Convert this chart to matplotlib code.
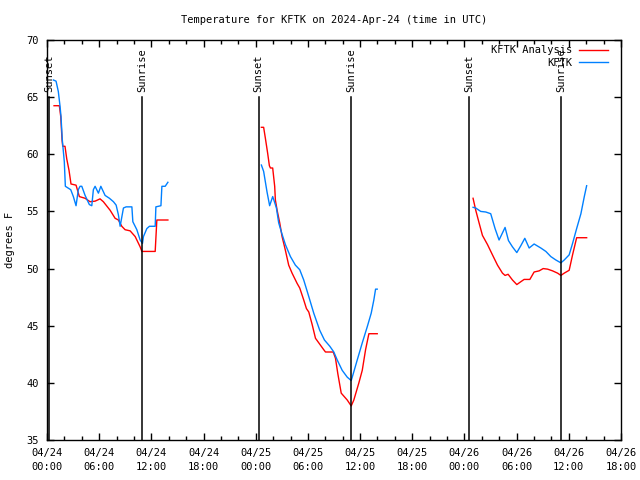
import pandas as pd
import matplotlib
matplotlib.use('Agg')
import matplotlib.pyplot as plt
import matplotlib.dates as mdates

plt.rcParams['font.family'] = 'DejaVu Sans Mono'
plt.rcParams['font.size'] = 7.5

start = pd.Timestamp('2024-04-24 00:00')

# Analysis (red), hours since 04/24 00:00 UTC; None separates nights
ana_hours = [0.81, 1.42, 1.58, 1.73, 1.81, 2.07, 2.27, 2.53, 2.76, 3.34, 3.72, 4.38, 4.95,
             5.53, 6.10, 6.48, 7.26, 7.83, 8.21, 8.60, 8.98, 9.56, 10.14, 10.71, 10.91,
             12.44, 12.63, 13.90,
             None,
             24.65, 24.91, 25.11, 25.37, 25.57, 25.69, 25.95, 26.18, 26.26, 26.46, 26.76,
             27.03, 27.41, 27.79, 28.18, 28.76, 29.06, 29.52, 29.83, 30.10, 30.49, 30.87,
             31.44, 31.82, 32.02, 32.91, 33.17, 33.44, 33.83, 34.52, 34.98, 35.28, 35.86,
             36.25, 36.63, 37.01, 37.97,
             None,
             48.99, 49.30, 49.68, 50.07, 50.65, 51.22, 51.80, 52.37, 52.67, 53.02, 53.52,
             54.02, 54.48, 54.86, 55.52, 56.01, 56.59, 57.05, 57.56, 58.13, 58.71, 59.09,
             59.47, 60.04, 60.43, 60.90, 62.05]
ana_temp = [64.25, 64.25, 63.3, 61.25, 60.7, 60.7, 59.6, 58.6, 57.4, 57.3, 56.3, 56.15, 55.85,
            55.9, 56.1, 55.85, 55.1, 54.4, 54.25, 53.7, 53.4, 53.3, 52.8, 51.9, 51.5,
            51.5, 54.25, 54.25,
            None,
            62.36, 62.36, 61.4, 60.1, 59.0, 58.8, 58.8, 57.2, 56.0, 55.1, 54.0,
            52.8, 51.6, 50.3, 49.6, 48.7, 48.3, 47.25, 46.5, 46.2, 45.1, 43.9,
            43.3, 42.9, 42.7, 42.7, 42.15, 40.8, 39.1, 38.5, 37.98, 38.5, 40.0,
            41.1, 42.9, 44.3, 44.3,
            None,
            56.15, 55.1, 54.0, 52.9, 52.1, 51.2, 50.3, 49.6, 49.4, 49.5, 49.0,
            48.6, 48.85, 49.05, 49.05, 49.7, 49.8, 50.0, 49.95, 49.8, 49.6, 49.4,
            49.6, 49.85, 51.2, 52.7, 52.7]

# Observations (blue)
obs_hours = [0.73, 1.04, 1.30, 1.50, 1.61, 1.76, 1.99, 2.11, 2.73, 3.03, 3.34, 3.60, 3.80,
             4.00, 4.38, 4.87, 5.15, 5.33, 5.53, 5.91, 6.19, 6.68, 7.18, 7.64, 7.95, 8.21,
             8.41, 8.79, 9.10, 9.76, 9.87, 10.33, 10.71, 10.98, 11.09, 11.48, 11.78, 12.44,
             12.52, 13.10, 13.21, 13.59, 13.90,
             None,
             24.65, 24.91, 25.30, 25.60, 25.95, 26.15, 26.38, 26.64, 27.03, 27.41, 27.99,
             28.56, 29.06, 29.52, 30.10, 30.67, 31.36, 31.90, 32.52, 32.98, 33.37, 33.94,
             34.52, 34.98, 35.10, 35.67, 36.25, 36.82, 37.28, 37.58, 37.78, 37.97,
             None,
             48.99, 49.30, 49.87, 50.45, 51.02, 51.52, 51.98, 52.67, 53.06, 53.52, 54.02,
             54.48, 54.94, 55.44, 56.01, 56.78, 57.36, 57.93, 58.51, 59.09, 59.47, 60.04,
             60.43, 60.90, 61.39, 61.78, 62.05]
obs_temp = [66.5, 66.4, 65.5, 64.2, 63.3, 61.25, 59.35, 57.2, 56.9, 56.3, 55.5, 56.9, 57.2,
            57.2, 56.4, 55.6, 55.5, 56.9, 57.2, 56.6, 57.2, 56.4, 56.15, 55.85, 55.55, 54.7,
            53.7, 55.3, 55.4, 55.4, 54.1, 53.4, 52.5, 52.2, 52.8, 53.5, 53.7, 53.7,
            55.4, 55.5, 57.2, 57.2, 57.55,
            None,
            59.06, 58.5, 56.7, 55.5, 56.3, 55.85, 55.3, 54.0, 53.0, 52.1, 51.05,
            50.3, 49.9, 49.0, 47.55, 46.1, 44.6, 43.75, 43.2, 42.7, 42.0, 41.1,
            40.5, 40.2, 40.5, 42.0, 43.5, 44.9, 46.1, 47.25, 48.2, 48.2,
            None,
            55.36, 55.3, 55.0, 54.95, 54.8, 53.5, 52.5, 53.6, 52.45, 51.9, 51.4,
            52.0, 52.65, 51.8, 52.15, 51.8, 51.5, 51.05, 50.75, 50.5, 50.75, 51.2,
            52.2, 53.5, 54.8, 56.3, 57.25]

# Sunset / sunrise markers
sun_hours = [0.23, 10.94, 24.34, 35.01, 48.55, 59.12]
sun_labels = ['Sunset', 'Sunrise', 'Sunset', 'Sunrise', 'Sunset', 'Sunrise']


def segments(hours, vals):
    segs, xs, ys = [], [], []
    for h, v in zip(hours, vals):
        if h is None:
            segs.append((xs, ys))
            xs, ys = [], []
        else:
            xs.append(start + pd.Timedelta(hours=h))
            ys.append(v)
    segs.append((xs, ys))
    return segs


fig = plt.figure(figsize=(6.4, 4.8), dpi=100)
ax = fig.add_axes([47 / 640, 40 / 480, 574 / 640, 400 / 480])

for i, (xs, ys) in enumerate(segments(ana_hours, ana_temp)):
    ax.plot(xs, ys, color='#ff0000', lw=1, label='KFTK Analysis' if i == 0 else None)
for i, (xs, ys) in enumerate(segments(obs_hours, obs_temp)):
    ax.plot(xs, ys, color='#0080ff', lw=1, label='KFTK' if i == 0 else None)

for h, lab in zip(sun_hours, sun_labels):
    t = start + pd.Timedelta(hours=h)
    ax.plot([t, t], [35, 65], color='black', lw=1.1)
    ax.text(t, 65.45, lab, rotation=90, ha='center', va='bottom')

ax.set_xlim(start, start + pd.Timedelta(hours=66))
ax.set_ylim(35, 70)
ax.set_yticks(range(35, 71, 5))

ax.xaxis.set_major_locator(mdates.HourLocator(byhour=[0, 6, 12, 18]))
ax.xaxis.set_minor_locator(mdates.HourLocator(byhour=range(0, 24, 2)))
ax.xaxis.set_major_formatter(mdates.DateFormatter('%m/%d\n%H:%M'))

ax.tick_params(which='both', direction='in', top=True, right=True, color='black')
ax.tick_params(which='major', length=5, width=1, pad=6)
ax.tick_params(which='minor', length=3, width=1)
for sp in ax.spines.values():
    sp.set_linewidth(1)

ax.set_ylabel('degrees F', labelpad=8)
ax.set_title('Temperature for KFTK on 2024-Apr-24 (time in UTC)', fontsize=7.5, pad=12)

ax.legend(loc='upper right', bbox_to_anchor=(1 - 8 / 574, 1), markerfirst=False,
          frameon=False, handlelength=2.8, handletextpad=0.6, labelspacing=0.25,
          borderaxespad=0.3, borderpad=0.2)

fig.canvas.draw()
for lbl in ax.get_xticklabels():
    lbl.set_linespacing(1.4)

fig.savefig('out.png', dpi=100)
